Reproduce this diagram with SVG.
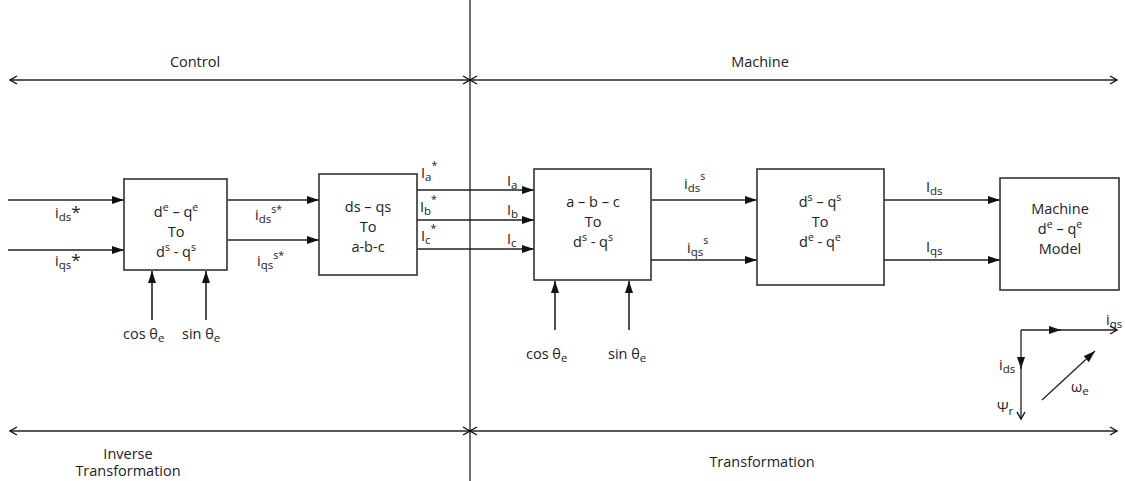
<svg xmlns="http://www.w3.org/2000/svg" width="1125" height="481" viewBox="0 0 1125 481">
<style>
text{font-family:"Open Sans","Noto Sans","Liberation Sans",sans-serif;fill:#222}
.bt{font-size:14.5px;text-anchor:middle}
.lb{font-size:14.5px}
.cap{font-size:14.5px;text-anchor:middle}
.box{fill:#fff;stroke:#333;stroke-width:1.6}
.ln{stroke:#222;stroke-width:1.6;fill:none}
.tn{stroke:#222;stroke-width:1.3;fill:none}
</style>
<defs>
<marker id="fa" viewBox="0 0 12 8" refX="12" refY="4" markerWidth="12" markerHeight="8" markerUnits="userSpaceOnUse" orient="auto"><path d="M0,0 L12,4 L0,8 z" fill="#111"/></marker>
<marker id="oa" viewBox="0 0 10 10" refX="8" refY="5" markerWidth="10" markerHeight="10" markerUnits="userSpaceOnUse" orient="auto-start-reverse"><path d="M1,1 L8,5 L1,9" fill="none" stroke="#111" stroke-width="1.4"/></marker>
</defs>

<g id="dividers">
<line class="tn" x1="470" y1="0" x2="470" y2="481"/>
<line class="tn" x1="10" y1="80" x2="470" y2="80" marker-start="url(#oa)" marker-end="url(#oa)"/>
<line class="tn" x1="470" y1="80" x2="1117" y2="80" marker-start="url(#oa)" marker-end="url(#oa)"/>
<line class="tn" x1="10" y1="431" x2="470" y2="431" marker-start="url(#oa)" marker-end="url(#oa)"/>
<line class="tn" x1="470" y1="431" x2="1117" y2="431" marker-start="url(#oa)" marker-end="url(#oa)"/>
<text class="cap" x="195" y="67">Control</text>
<text class="cap" x="760" y="67">Machine</text>
<text class="cap" x="128" y="459">Inverse</text>
<text class="cap" x="128" y="476">Transformation</text>
<text class="cap" x="762" y="467">Transformation</text>
</g>

<g id="connectors">
<line class="ln" x1="8" y1="200" x2="124" y2="200" marker-end="url(#fa)"/>
<line class="ln" x1="8" y1="250" x2="124" y2="250" marker-end="url(#fa)"/>
<line class="ln" x1="227" y1="200" x2="319" y2="200" marker-end="url(#fa)"/>
<line class="ln" x1="227" y1="240" x2="319" y2="240" marker-end="url(#fa)"/>
<line class="ln" x1="152" y1="320" x2="152" y2="271" marker-end="url(#fa)"/>
<line class="ln" x1="206" y1="320" x2="206" y2="271" marker-end="url(#fa)"/>
<line class="ln" x1="417" y1="190" x2="534" y2="190" marker-end="url(#fa)"/>
<line class="ln" x1="417" y1="220" x2="534" y2="220" marker-end="url(#fa)"/>
<line class="ln" x1="417" y1="249" x2="534" y2="249" marker-end="url(#fa)"/>
<line class="ln" x1="555" y1="330" x2="555" y2="281" marker-end="url(#fa)"/>
<line class="ln" x1="629" y1="330" x2="629" y2="281" marker-end="url(#fa)"/>
<line class="ln" x1="651" y1="200" x2="757" y2="200" marker-end="url(#fa)"/>
<line class="ln" x1="651" y1="260" x2="757" y2="260" marker-end="url(#fa)"/>
<line class="ln" x1="884" y1="200" x2="1000" y2="200" marker-end="url(#fa)"/>
<line class="ln" x1="884" y1="260" x2="1000" y2="260" marker-end="url(#fa)"/>
</g>

<g id="labels">
<text class="lb" x="55" y="218">i<tspan font-size="11.5" dy="3">ds</tspan><tspan font-size="17" dy="-3">*</tspan></text>
<text class="lb" x="55" y="266">i<tspan font-size="11.5" dy="3">qs</tspan><tspan font-size="17" dy="-3">*</tspan></text>
<text class="lb" x="255" y="220">i<tspan font-size="11.5" dy="3">ds</tspan><tspan font-size="10.5" dy="-10">s*</tspan></text>
<text class="lb" x="257" y="266">i<tspan font-size="11.5" dy="3">qs</tspan><tspan font-size="10.5" dy="-10">s*</tspan></text>
<text class="lb" x="123" y="339">cos θ<tspan font-size="11.5" dy="3">e</tspan></text>
<text class="lb" x="182" y="339">sin θ<tspan font-size="11.5" dy="3">e</tspan></text>
<text class="lb" x="421" y="178">I<tspan font-size="11.5" dy="3">a</tspan><tspan font-size="10.5" dy="-12">*</tspan></text>
<text class="lb" x="420" y="212">I<tspan font-size="11.5" dy="3">b</tspan><tspan font-size="10.5" dy="-12">*</tspan></text>
<text class="lb" x="421" y="241">I<tspan font-size="11.5" dy="3">c</tspan><tspan font-size="10.5" dy="-12">*</tspan></text>
<text class="lb" x="507" y="186">I<tspan font-size="11.5" dy="3">a</tspan></text>
<text class="lb" x="507" y="215">I<tspan font-size="11.5" dy="3">b</tspan></text>
<text class="lb" x="507" y="244">I<tspan font-size="11.5" dy="3">c</tspan></text>
<text class="lb" x="684" y="189">i<tspan font-size="11.5" dy="3">ds</tspan><tspan font-size="10.5" dy="-12">s</tspan></text>
<text class="lb" x="687" y="253">i<tspan font-size="11.5" dy="3">qs</tspan><tspan font-size="10.5" dy="-12">s</tspan></text>
<text class="lb" x="526" y="359">cos θ<tspan font-size="11.5" dy="3">e</tspan></text>
<text class="lb" x="608" y="359">sin θ<tspan font-size="11.5" dy="3">e</tspan></text>
<text class="lb" x="926" y="192">I<tspan font-size="11.5" dy="3">ds</tspan></text>
<text class="lb" x="926" y="252">I<tspan font-size="11.5" dy="3">qs</tspan></text>
</g>

<g id="box1">
<rect class="box" x="124" y="179" width="103" height="91"/>
<text class="bt" x="176" y="217">d<tspan font-size="10.5" dy="-6">e</tspan><tspan dy="6"> – q</tspan><tspan font-size="10.5" dy="-6">e</tspan></text>
<text class="bt" x="176" y="237">To</text>
<text class="bt" x="176" y="257">d<tspan font-size="10.5" dy="-6">s</tspan><tspan dy="6"> - q</tspan><tspan font-size="10.5" dy="-6">s</tspan></text>
</g>

<g id="box2">
<rect class="box" x="319" y="174" width="98" height="101"/>
<text class="bt" x="368" y="212">ds – qs</text>
<text class="bt" x="368" y="232">To</text>
<text class="bt" x="368" y="252">a-b-c</text>
</g>

<g id="box3">
<rect class="box" x="534" y="169" width="117" height="111"/>
<text class="bt" x="593" y="207">a – b – c</text>
<text class="bt" x="593" y="227">To</text>
<text class="bt" x="593" y="247">d<tspan font-size="10.5" dy="-6">s</tspan><tspan dy="6"> - q</tspan><tspan font-size="10.5" dy="-6">s</tspan></text>
</g>

<g id="box4">
<rect class="box" x="757" y="169" width="127" height="116"/>
<text class="bt" x="820" y="207">d<tspan font-size="10.5" dy="-6">s</tspan><tspan dy="6"> – q</tspan><tspan font-size="10.5" dy="-6">s</tspan></text>
<text class="bt" x="820" y="227">To</text>
<text class="bt" x="820" y="247">d<tspan font-size="10.5" dy="-6">e</tspan><tspan dy="6"> - q</tspan><tspan font-size="10.5" dy="-6">e</tspan></text>
</g>

<g id="box5">
<rect class="box" x="1000" y="178" width="119" height="112"/>
<text class="bt" x="1060" y="214">Machine</text>
<text class="bt" x="1060" y="234">d<tspan font-size="10.5" dy="-6">e</tspan><tspan dy="6"> – q</tspan><tspan font-size="10.5" dy="-6">e</tspan></text>
<text class="bt" x="1060" y="254">Model</text>
</g>

<g id="axes">
<line class="tn" x1="1021" y1="330" x2="1061" y2="330" marker-end="url(#fa)"/>
<line class="tn" x1="1055" y1="330" x2="1117" y2="330" marker-end="url(#oa)"/>
<line class="tn" x1="1021" y1="330" x2="1021" y2="369" marker-end="url(#fa)"/>
<line class="tn" x1="1021" y1="363" x2="1021" y2="419" marker-end="url(#oa)"/>
<line class="tn" x1="1042" y1="400" x2="1095" y2="351" marker-end="url(#fa)"/>
<text class="lb" x="1106" y="325">i<tspan font-size="11.5" dy="3">qs</tspan></text>
<text class="lb" x="999" y="370">i<tspan font-size="11.5" dy="3">ds</tspan></text>
<text class="lb" x="997" y="412">Ψ<tspan font-size="11.5" dy="3">r</tspan></text>
<text class="lb" x="1071" y="392">ω<tspan font-size="11.5" dy="3">e</tspan></text>
</g>
</svg>
